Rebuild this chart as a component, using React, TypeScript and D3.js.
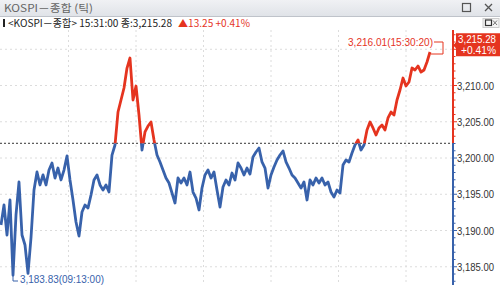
import React from 'react';
import * as d3 from 'd3';

// KOSPI tick prices (tick order)
const prices = [
  3190.76, 3193.52, 3189.38, 3194.21, 3183.83, 3192.14, 3196.69, 3189.38, 3188.0, 3184.1,
  3189.0, 3195.59, 3198.07, 3196.28, 3197.66, 3196.28, 3198.34, 3199.31, 3197.24, 3198.62,
  3196.97, 3198.34, 3200.28, 3196.97, 3194.21, 3191.17, 3189.24, 3192.55, 3193.52, 3193.1,
  3194.9, 3196.97, 3197.66, 3196.28, 3195.59, 3196.28, 3195.31, 3200.41, 3201.79, 3206.34,
  3208.0, 3209.66, 3212.41, 3213.79, 3208.0, 3209.93, 3205.93, 3201.1, 3203.59, 3204.41,
  3204.97, 3202.48, 3200.41, 3199.45, 3198.34, 3197.24, 3196.55, 3195.17, 3193.79, 3197.24,
  3196.55, 3197.24, 3196.28, 3198.07, 3195.31, 3194.48, 3192.83, 3195.86, 3197.66, 3198.34,
  3197.24, 3198.07, 3195.59, 3193.24, 3196.0, 3196.97, 3196.28, 3197.93, 3196.97, 3199.31,
  3198.62, 3197.66, 3198.62, 3197.79, 3200.14, 3200.83, 3201.38, 3199.45, 3198.62, 3195.86,
  3197.66, 3198.76, 3199.72, 3200.41, 3200.97, 3199.45, 3198.62, 3197.66, 3197.24, 3196.55,
  3195.86, 3196.69, 3194.21, 3196.97, 3196.28, 3197.24, 3196.55, 3197.24, 3196.28, 3196.69,
  3195.31, 3194.62, 3195.59, 3195.17, 3199.03, 3199.72, 3199.45, 3200.69, 3201.79, 3202.48,
  3201.1, 3201.79, 3203.86, 3204.97, 3204.14, 3203.17, 3204.14, 3204.55, 3203.86, 3205.52,
  3206.34, 3205.93, 3208.0, 3209.38, 3211.03, 3209.93, 3210.48, 3212.41, 3212.14, 3212.69,
  3211.86, 3212.14, 3213.24, 3214.62,
];
const prevClose = 3202.03;
const lastPrice = 3215.28;
const change = 13.25;
const changePct = 0.41;
const lowPrice = 3183.83;
const lowTime = '09:13:00';
const lowIndex = 4;
const highPrice = 3216.01;
const highTime = '15:30:20';
const gridValues = [3185, 3190, 3195, 3200, 3205, 3210, 3215];
const labelValues = [3185, 3190, 3195, 3200, 3205, 3210];
const minorTickValues = d3.range(3183, 3218, 1);
const xGridIndex = [22.5, 45, 67.5, 90, 112.5, 135];

const RED = '#e5341f';
const BLUE = '#3862ab';
const FONT = '"Noto Sans CJK KR", "Noto Sans", sans-serif';
const NUM = '"Liberation Sans", Arial, sans-serif';

export default function App() {
  const W = 500;
  const H = 285;
  const axisX = 453;
  const y = d3.scaleLinear().domain([3185, 3210]).range([266.75, 85.5]);
  const x = d3.scaleLinear().domain([0, prices.length - 1]).range([1, 430]);
  const line = d3
    .line<number>()
    .x((_, i) => x(i))
    .y((d) => y(d));
  const path = line(prices) || '';
  const yRef = y(prevClose);
  const fmt = d3.format(',.2f');
  const yLast = y(lastPrice) - 2;
  const xEnd = x(prices.length - 1);
  const yEnd = y(prices[prices.length - 1]);
  const xLow = x(lowIndex);

  return (
    <svg
      width={W}
      height={H}
      style={{ position: 'absolute', left: 0, top: 0, background: '#fff' }}
      fontFamily={FONT}
    >
      <defs>
        <clipPath id="above">
          <rect x={0} y={0} width={W} height={yRef} />
        </clipPath>
        <clipPath id="below">
          <rect x={0} y={yRef} width={W} height={H - yRef} />
        </clipPath>
        <linearGradient id="titlebg" x1="0" y1="0" x2="0" y2="1">
          <stop offset="0" stopColor="#f0f1f4" />
          <stop offset="1" stopColor="#e0e3e8" />
        </linearGradient>
      </defs>

      {/* grid */}
      {gridValues.map((v) => (
        <line key={'h' + v} x1={0} x2={axisX} y1={y(v)} y2={y(v)} stroke="#dcdcdc" strokeDasharray="2,3" />
      ))}
      {xGridIndex.map((g) => (
        <line key={'v' + g} x1={x(g)} x2={x(g)} y1={30} y2={H} stroke="#dcdcdc" strokeDasharray="2,3" />
      ))}

      {/* previous close reference */}
      <line x1={0} x2={axisX} y1={yRef} y2={yRef} stroke="#333" strokeDasharray="2,2" strokeWidth={1} />

      {/* price line */}
      <path d={path} fill="none" stroke={BLUE} strokeWidth={2.8} strokeLinejoin="round" clipPath="url(#below)" />
      <path d={path} fill="none" stroke={RED} strokeWidth={2.8} strokeLinejoin="round" clipPath="url(#above)" />

      {/* right axis */}
      <line x1={axisX} x2={axisX} y1={17} y2={yRef} stroke={RED} strokeWidth={2} />
      <line x1={axisX} x2={axisX} y1={yRef} y2={H} stroke={BLUE} strokeWidth={2} />
      {minorTickValues.map((v) => (
        <line
          key={'t' + v}
          x1={axisX}
          x2={axisX + (v % 5 === 0 ? 4 : 2.5)}
          y1={y(v)}
          y2={y(v)}
          stroke={v >= prevClose ? RED : BLUE}
          strokeWidth={1}
        />
      ))}
      {labelValues.map((v) => (
        <text
          key={'l' + v}
          x={457}
          y={y(v) + 4}
          fontSize={10.5}
          fontFamily={NUM}
          fill="#333"
          textLength={37}
          lengthAdjust="spacingAndGlyphs"
        >
          {fmt(v)}
        </text>
      ))}

      {/* last price box */}
      <path
        d={`M${axisX},${yLast} L${axisX + 3},${yLast - 3} L${axisX + 3},${yLast - 12} L${W},${yLast - 12} L${W},${yLast + 11} L${axisX + 3},${yLast + 11} L${axisX + 3},${yLast + 3} Z`}
        fill={RED}
      />
      <text x={458} y={yLast - 2} fontSize={10} fontFamily={NUM} fill="#fff" textLength={38} lengthAdjust="spacingAndGlyphs">
        {fmt(lastPrice)}
      </text>
      <text x={461} y={yLast + 9} fontSize={10} fontFamily={NUM} fill="#fff" textLength={35} lengthAdjust="spacingAndGlyphs">
        {'+' + changePct.toFixed(2) + '%'}
      </text>

      {/* high annotation */}
      <text x={433} y={46} fontSize={10.5} fontFamily={NUM} fill={RED} textAnchor="end" textLength={85} lengthAdjust="spacingAndGlyphs">
        {fmt(highPrice) + '(' + highTime + ')'}
      </text>
      <path d={`M434,${42} H443 V${yEnd + 2} H${xEnd + 1}`} fill="none" stroke={RED} strokeWidth={1} />

      {/* low annotation */}
      <path d={`M${xLow},${y(lowPrice) + 1} V281 H${xLow + 5}`} fill="none" stroke={BLUE} strokeWidth={1} />
      <text x={xLow + 7} y={283} fontSize={10.5} fontFamily={NUM} fill={BLUE} textLength={84} lengthAdjust="spacingAndGlyphs">
        {fmt(lowPrice) + '(' + lowTime + ')'}
      </text>

      {/* title bar */}
      <rect x={0} y={0} width={W} height={16} fill="url(#titlebg)" />
      <line x1={0} x2={W} y1={16.5} y2={16.5} stroke="#bfc3ca" />
      <text x={4} y={12} fontSize={10.5} fill="#666" textLength={89} lengthAdjust="spacingAndGlyphs">
        KOSPI－종합 (틱)
      </text>
      <rect x={462.5} y={3.5} width={8} height={8} fill="none" stroke="#555" strokeWidth={1.2} />
      <path d="M485,4 L492,11 M492,4 L485,11" stroke="#555" strokeWidth={1.3} />

      {/* info row */}
      <rect x={0} y={17} width={W} height={13} fill="#fff" />
      <rect x={3} y={19} width={2} height={8} fill="#222" />
      <text x={8} y={27} fontSize={10} fill="#222" textLength={164} lengthAdjust="spacingAndGlyphs">
        {'<KOSPI－종합> 15:31:00 종:' + fmt(lastPrice)}
      </text>
      <text x={178} y={27} fontSize={10} fill={RED} textLength={72} lengthAdjust="spacingAndGlyphs">
        {'▲' + change.toFixed(2) + ' +' + changePct.toFixed(2) + '%'}
      </text>
      <rect x={483} y={18.5} width={16} height={9} fill="#f4f4f4" stroke="#ccc" />
      <rect x={485.5} y={20} width={6} height={5.5} fill="none" stroke="#333" strokeWidth={1.2} />
      <path d="M493,20.5 L497,25 M497,20.5 L493,25" stroke="#777" strokeWidth={1} />
    </svg>
  );
}
